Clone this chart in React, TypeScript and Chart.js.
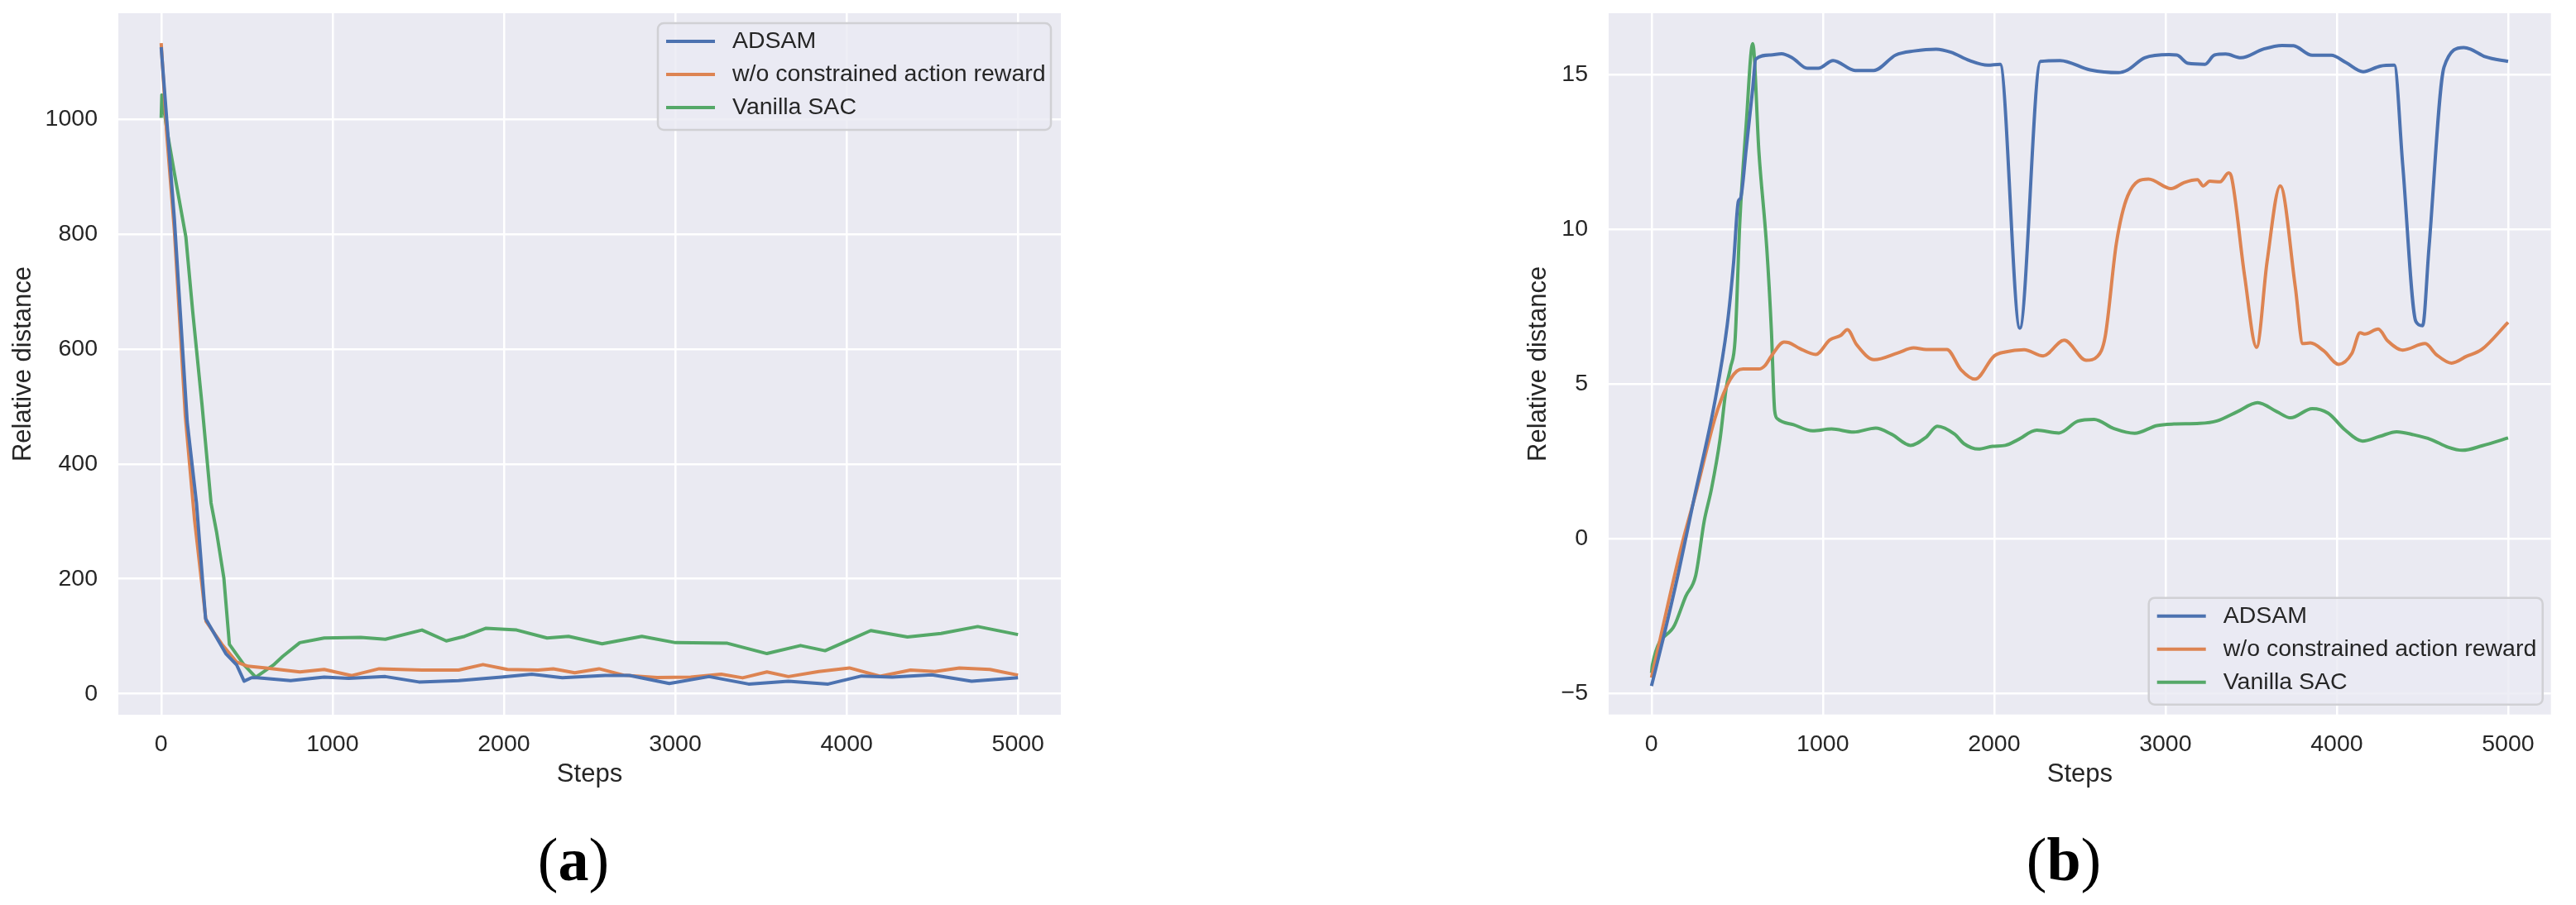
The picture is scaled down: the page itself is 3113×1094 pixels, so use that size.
import React, { useEffect, useRef } from "react";
import { Chart, registerables } from "chart.js";

Chart.register(...registerables);

// ---------- shared ----------
const seriesLabels = ["ADSAM", "w/o constrained action reward", "Vanilla SAC"];
const seriesColors = ["#4C72B0", "#DD8452", "#55A868"];
const xTicks = [0, 1000, 2000, 3000, 4000, 5000];
const leftYTicks = [0, 200, 400, 600, 800, 1000];
const rightYTicks = [-5, 0, 5, 10, 15];
const xTitle = "Steps";
const yTitle = "Relative distance";
const panelLabels = ["a", "b"];

// ---------- panel (a) ----------
const aAdsamSteps = [0, 77, 152, 206, 259, 377, 441, 484, 527, 560, 755, 951, 1094, 1308, 1504, 1736, 1985, 2163, 2341, 2591, 2733, 2965, 3197, 3428, 3660, 3892, 4088, 4266, 4497, 4729, 5000];
const aAdsamValues = [1125, 826, 473, 332, 131, 70, 50, 22, 28, 28, 23, 29, 27, 30, 20.6, 23, 29, 34, 28, 32, 32, 18, 30, 17, 22, 17, 31, 29, 33, 22, 28];

const aNoCarSteps = [0, 32, 77, 141, 195, 262, 355, 441, 505, 612, 809, 951, 1112, 1272, 1522, 1736, 1878, 2021, 2199, 2288, 2413, 2555, 2698, 2894, 3090, 3268, 3393, 3535, 3660, 3838, 4016, 4195, 4373, 4515, 4658, 4836, 5000];
const aNoCarValues = [1132, 976, 806, 483, 302, 126, 86, 55, 48, 45, 38, 42.5, 31.7, 43.6, 41.3, 41.3, 50.9, 42.5, 41.3, 43.6, 36.6, 43.6, 32.5, 28.3, 29.2, 34, 27.8, 38, 30, 38.9, 45, 30.6, 41.3, 38.9, 45, 42.5, 32.5];

const aSacSteps = [0, 4, 34, 77, 144, 184, 238, 291, 323, 366, 398, 484, 552, 655, 709, 809, 951, 1165, 1308, 1522, 1664, 1771, 1896, 2074, 2252, 2377, 2573, 2805, 3001, 3304, 3535, 3731, 3874, 3981, 4141, 4355, 4551, 4765, 5000];
const aSacValues = [1002, 1042, 980, 906, 795, 665, 504, 332, 282, 201, 86, 50, 29, 50, 65, 89, 97, 98, 95, 111, 92, 100, 114, 111, 97, 100, 87, 100, 89, 88, 70, 84, 75, 89, 110, 99, 105, 117, 103];

// ---------- panel (b) ----------
const bAdsamSteps = [0, 71, 157, 249, 369, 442, 479, 507, 520, 553, 590, 609, 695, 759, 824, 910, 974, 1060, 1189, 1297, 1426, 1533, 1662, 1748, 1856, 1963, 2035, 2150, 2270, 2385, 2560, 2725, 2780, 2879, 3022, 3066, 3132, 3231, 3286, 3352, 3440, 3571, 3681, 3747, 3857, 3967, 4055, 4154, 4253, 4336, 4385, 4462, 4501, 4538, 4626, 4741, 4780, 4868, 5000];
const bAdsamValues = [-4.77, -3.18, -1.12, 1.3, 4.4, 6.9, 8.9, 10.9, 11.0, 12.6, 14.5, 15.5, 15.63, 15.67, 15.53, 15.2, 15.2, 15.45, 15.13, 15.13, 15.63, 15.76, 15.82, 15.72, 15.45, 15.3, 15.33, 6.8, 15.42, 15.45, 15.15, 15.06, 15.15, 15.54, 15.64, 15.63, 15.36, 15.33, 15.63, 15.66, 15.54, 15.82, 15.94, 15.93, 15.62, 15.62, 15.38, 15.09, 15.27, 15.3, 12.07, 7.01, 6.88, 9.38, 15.24, 15.87, 15.82, 15.57, 15.42];

const bNoCarSteps = [0, 178, 254, 369, 406, 461, 498, 535, 627, 664, 700, 774, 802, 866, 959, 1041, 1106, 1143, 1198, 1300, 1438, 1530, 1604, 1724, 1806, 1889, 2000, 2065, 2175, 2286, 2409, 2538, 2604, 2648, 2714, 2780, 2901, 3033, 3110, 3187, 3220, 3259, 3319, 3369, 3385, 3462, 3532, 3593, 3670, 3758, 3802, 3846, 3923, 4011, 4088, 4136, 4165, 4242, 4297, 4385, 4516, 4582, 4670, 4758, 4846, 5000];
const bNoCarValues = [-4.5, -0.19, 1.36, 3.86, 4.48, 5.15, 5.41, 5.48, 5.48, 5.6, 5.9, 6.35, 6.33, 6.14, 5.95, 6.42, 6.57, 6.75, 6.26, 5.78, 6.0, 6.16, 6.11, 6.11, 5.46, 5.15, 5.9, 6.03, 6.1, 5.9, 6.41, 5.76, 5.89, 6.52, 9.56, 11.08, 11.62, 11.31, 11.51, 11.6, 11.4, 11.55, 11.53, 11.82, 11.7, 8.49, 6.18, 8.94, 11.4, 8.13, 6.3, 6.32, 6.07, 5.63, 5.98, 6.65, 6.61, 6.77, 6.39, 6.09, 6.3, 5.94, 5.67, 5.89, 6.11, 6.99];

const bSacSteps = [0, 5, 135, 200, 258, 308, 350, 400, 437, 461, 488, 516, 553, 591, 627, 673, 700, 719, 737, 829, 940, 1051, 1180, 1309, 1401, 1512, 1604, 1668, 1770, 1825, 1908, 1991, 2065, 2138, 2249, 2378, 2488, 2583, 2700, 2820, 2950, 3050, 3200, 3300, 3420, 3538, 3650, 3730, 3857, 3950, 4050, 4150, 4250, 4350, 4450, 4550, 4650, 4733, 4850, 5000];
const bSacValues = [-4.35, -4.1, -2.8, -1.87, -1.2, 0.57, 1.6, 3.2, 4.9, 5.52, 6.42, 10.28, 13.4, 16.0, 12.5, 9.38, 6.71, 4.13, 3.86, 3.68, 3.48, 3.54, 3.44, 3.57, 3.37, 3.01, 3.28, 3.63, 3.37, 3.06, 2.89, 2.98, 3.01, 3.19, 3.5, 3.41, 3.79, 3.85, 3.55, 3.4, 3.65, 3.7, 3.72, 3.8, 4.1, 4.39, 4.1, 3.9, 4.2, 4.05, 3.5, 3.15, 3.3, 3.45, 3.35, 3.2, 2.95, 2.85, 3.0, 3.25];

// ---------- styling ----------
const FONT = "'Liberation Sans', Arial, Helvetica, sans-serif";
const TEXT = "#262626";
const BG = "#EAEAF2";

const toPoints = (steps: number[], values: number[]) =>
  steps.map((s, i) => ({ x: s, y: values[i] }));

const fmtTick = (v: number) => (v < 0 ? "\u2212" + Math.abs(v) : String(v));

const bgPlugin = {
  id: "axesBg",
  beforeDraw(chart: any) {
    const { ctx, chartArea: a } = chart;
    ctx.save();
    ctx.fillStyle = BG;
    ctx.fillRect(a.left, a.top, a.right - a.left, a.bottom - a.top);
    ctx.restore();
  },
};

const legendPlugin = {
  id: "mplLegend",
  afterDraw(chart: any, _args: any, opts: any) {
    if (!opts || !opts.corner) return;
    const { ctx, chartArea: a } = chart;
    const w = opts.width;
    const h = opts.height;
    const x = a.right - opts.insetX - w;
    const y = opts.corner === "upper" ? a.top + opts.insetY : a.bottom - opts.insetY - h;
    const r = 7;
    ctx.save();
    ctx.beginPath();
    ctx.moveTo(x + r, y);
    ctx.lineTo(x + w - r, y);
    ctx.arcTo(x + w, y, x + w, y + r, r);
    ctx.lineTo(x + w, y + h - r);
    ctx.arcTo(x + w, y + h, x + w - r, y + h, r);
    ctx.lineTo(x + r, y + h);
    ctx.arcTo(x, y + h, x, y + h - r, r);
    ctx.lineTo(x, y + r);
    ctx.arcTo(x, y, x + r, y, r);
    ctx.closePath();
    ctx.fillStyle = "rgba(234,234,242,0.8)";
    ctx.fill();
    ctx.lineWidth = 2.5;
    ctx.strokeStyle = "#D0D0D4";
    ctx.stroke();
    chart.data.datasets.forEach((ds: any, i: number) => {
      const cy = y + 22 + i * 40;
      ctx.beginPath();
      ctx.moveTo(x + 10, cy);
      ctx.lineTo(x + 69, cy);
      ctx.lineWidth = 4;
      ctx.lineCap = "butt";
      ctx.strokeStyle = ds.borderColor;
      ctx.stroke();
      ctx.fillStyle = TEXT;
      ctx.font = `28.5px ${FONT}`;
      ctx.textAlign = "left";
      ctx.textBaseline = "middle";
      ctx.fillText(ds.label, x + 90, cy);
    });
    ctx.restore();
  },
};

type PanelCfg = {
  series: { steps: number[]; values: number[] }[];
  smooth: boolean;
  yMin: number;
  yMax: number;
  yTicks: number[];
  yAxisWidth: number;
  xAxisHeight: number;
  padRight: number;
  yTitlePad: number;
  legend: any;
};

const zeroPadding = (s: any) => {
  s.paddingTop = 0;
  s.paddingBottom = 0;
  s.paddingLeft = 0;
  s.paddingRight = 0;
};

function makeChart(canvas: HTMLCanvasElement, cfg: PanelCfg) {
  return new Chart(canvas, {
    type: "line",
    data: {
      datasets: cfg.series.map((s, i) => ({
        label: seriesLabels[i],
        data: toPoints(s.steps, s.values),
        borderColor: seriesColors[i],
        backgroundColor: seriesColors[i],
        borderWidth: 4,
        pointRadius: 0,
        tension: 0,
        cubicInterpolationMode: cfg.smooth ? "monotone" : "default",
        borderJoinStyle: "round",
        fill: false,
      })),
    },
    options: {
      animation: false,
      responsive: false,
      devicePixelRatio: 1,
      layout: { padding: { top: 16, right: cfg.padRight, left: 0, bottom: 0 } },
      plugins: {
        legend: { display: false },
        tooltip: { enabled: false },
        mplLegend: cfg.legend,
      } as any,
      scales: {
        x: {
          type: "linear",
          min: -250,
          max: 5250,
          afterBuildTicks: (s: any) => {
            s.ticks = xTicks.map((v) => ({ value: v }));
          },
          afterFit: (s: any) => {
            s.height = cfg.xAxisHeight;
            zeroPadding(s);
          },
          grid: { color: "#FFFFFF", lineWidth: 2.5, drawTicks: false },
          border: { display: false },
          ticks: {
            color: TEXT,
            font: { family: FONT, size: 28.5 },
            padding: 19,
            maxRotation: 0,
            autoSkip: false,
            callback: (v: any) => fmtTick(Number(v)),
          },
          title: {
            display: true,
            text: xTitle,
            color: TEXT,
            font: { family: FONT, size: 31 },
            padding: { top: 0, bottom: 45 },
          },
        },
        y: {
          type: "linear",
          min: cfg.yMin,
          max: cfg.yMax,
          afterBuildTicks: (s: any) => {
            s.ticks = cfg.yTicks.map((v) => ({ value: v }));
          },
          afterFit: (s: any) => {
            s.width = cfg.yAxisWidth;
            zeroPadding(s);
          },
          grid: { color: "#FFFFFF", lineWidth: 2.5, drawTicks: false },
          border: { display: false },
          ticks: {
            color: TEXT,
            font: { family: FONT, size: 28.5 },
            padding: 25,
            autoSkip: false,
            callback: (v: any) => fmtTick(Number(v)),
          },
          title: {
            display: true,
            text: yTitle,
            color: TEXT,
            font: { family: FONT, size: 31 },
            padding: { top: cfg.yTitlePad, bottom: 0 },
          },
        },
      },
    } as any,
    plugins: [bgPlugin, legendPlugin],
  });
}

export default function App() {
  const leftRef = useRef<HTMLCanvasElement | null>(null);
  const rightRef = useRef<HTMLCanvasElement | null>(null);

  useEffect(() => {
    const charts: Chart[] = [];
    if (leftRef.current) {
      charts.push(
        makeChart(leftRef.current, {
          series: [
            { steps: aAdsamSteps, values: aAdsamValues },
            { steps: aNoCarSteps, values: aNoCarValues },
            { steps: aSacSteps, values: aSacValues },
          ],
          smooth: false,
          yMin: -36.4,
          yMax: 1184,
          yTicks: leftYTicks,
          yAxisWidth: 143,
          xAxisHeight: 136,
          padRight: 18,
          yTitlePad: 9.4,
          legend: { corner: "upper", width: 475, height: 129, insetX: 12, insetY: 12 },
        })
      );
    }
    if (rightRef.current) {
      charts.push(
        makeChart(rightRef.current, {
          series: [
            { steps: bAdsamSteps, values: bAdsamValues },
            { steps: bNoCarSteps, values: bNoCarValues },
            { steps: bSacSteps, values: bSacValues },
          ],
          smooth: true,
          yMin: -5.69,
          yMax: 16.98,
          yTicks: rightYTicks,
          yAxisWidth: 144,
          xAxisHeight: 136.3,
          padRight: 30.3,
          yTitlePad: 40.4,
          legend: { corner: "lower", width: 476, height: 129, insetX: 10, insetY: 12 },
        })
      );
    }
    return () => charts.forEach((c) => c.destroy());
  }, []);

  const labelStyle = (cx: number): React.CSSProperties => ({
    position: "absolute",
    left: cx - 100,
    top: 1002,
    width: 200,
    textAlign: "center",
    fontFamily: "'Liberation Serif', 'Times New Roman', serif",
    fontSize: 74,
    lineHeight: "74px",
    color: "#000",
  });

  return (
    <div style={{ position: "absolute", left: 0, top: 0, width: 3113, height: 1094, background: "#fff", overflow: "hidden" }}>
      <canvas ref={leftRef} width={1300} height={1000} style={{ position: "absolute", left: 0, top: 0, width: 1300, height: 1000 }} />
      <canvas ref={rightRef} width={1313} height={1000} style={{ position: "absolute", left: 1800, top: 0, width: 1313, height: 1000 }} />
      <div style={labelStyle(693)}>
        (<b>{panelLabels[0]}</b>)
      </div>
      <div style={labelStyle(2494)}>
        (<b>{panelLabels[1]}</b>)
      </div>
    </div>
  );
}
